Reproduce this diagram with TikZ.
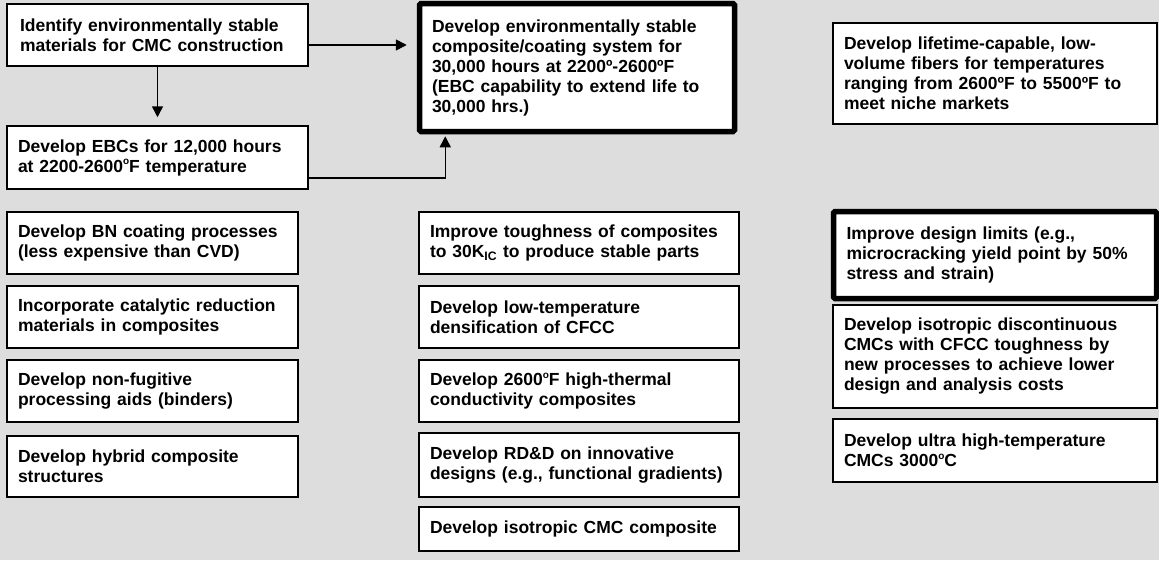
\documentclass[tikz,border=0pt]{standalone}
\usepackage{fontspec}
\setmainfont{Liberation Sans}
\usetikzlibrary{arrows.meta}
\definecolor{panelgray}{RGB}{221,221,221}
\newcommand{\degsup}{\raisebox{0.42em}{\fontsize{10}{10}\selectfont o}}

\begin{document}
\begin{tikzpicture}[x=1pt,y=-1pt,
  font=\fontsize{17.5}{20}\selectfont\bfseries,
  card/.style={draw=black, line width=1.5pt, fill=white, rectangle,
    inner xsep=11pt, inner ysep=0pt, align=left},
  heavycard/.style={card, line width=5.5pt, rounded corners=1.5pt},
  colL/.style={minimum width=301pt, text width=279pt},
  colLs/.style={minimum width=291pt, text width=269pt},
  colM/.style={minimum width=320pt, text width=298pt},
  colR/.style={minimum width=324pt, text width=302pt},
  arr/.style={line width=1.5pt, -{Triangle[length=11pt,width=11pt]}}
]
\fill[panelgray] (0,0) rectangle (1159,560);
\useasboundingbox (0,0) rectangle (1159,560);

% top row: chain of coating goals
\node[card, colL, minimum height=62pt, inner xsep=13pt, text width=275pt] (ident) at (157.5,35)
  {Identify environmentally stable\\materials for CMC construction};
\node[card, colL, minimum height=63pt] (ebc) at (157.5,157.5)
  {Develop EBCs for 12,000 hours\\at 2200-2600\degsup F temperature};
\node[heavycard, minimum width=315pt, minimum height=128pt, inner xsep=12.5pt, text width=290pt] (sys) at (577,67.5)
  {Develop environmentally stable\\composite/coating system for\\30,000 hours at 2200º-2600ºF\\(EBC capability to extend life to\\30,000 hrs.)};
\node[card, colR, minimum height=101pt] (fiber) at (995,73.5)
  {Develop lifetime-capable, low-\\volume fibers for temperatures\\ranging from 2600ºF to 5500ºF to\\meet niche markets};

% left column
\node[card, colLs, minimum height=62pt] (bn) at (152.5,243)
  {Develop BN coating processes\\(less expensive than CVD)};
\node[card, colLs, minimum height=62pt] (cat) at (152.5,317)
  {Incorporate catalytic reduction\\materials in composites};
\node[card, colLs, minimum height=62pt] (bind) at (152.5,391)
  {Develop non-fugitive\\processing aids (binders)};
\node[card, colLs, minimum height=61pt] (hyb) at (152.5,466.5)
  {Develop hybrid composite\\structures};

% middle column
\node[card, colM, minimum height=62pt] (tough) at (579,243)
  {Improve toughness of composites\\to 30K\textsubscript{IC} to produce stable parts};
\node[card, colM, minimum height=62pt] (dens) at (579,317)
  {Develop low-temperature\\densification of CFCC};
\node[card, colM, minimum height=62pt] (cond) at (579,391)
  {Develop 2600\degsup F high-thermal\\conductivity composites};
\node[card, colM, minimum height=64pt] (rdd) at (579,465)
  {Develop RD\&D on innovative\\designs (e.g., functional gradients)};
\node[card, colM, minimum height=44pt] (iso) at (579,529)
  {Develop isotropic CMC composite};

% right column
\node[heavycard, minimum width=323pt, minimum height=87pt, inner xsep=13pt, text width=297pt] (limits) at (995,255)
  {Improve design limits (e.g.,\\microcracking yield point by 50\%\\stress and strain)};
\node[card, colR, minimum height=103pt] (disc) at (995,356.5)
  {Develop isotropic discontinuous\\CMCs with CFCC toughness by\\new processes to achieve lower\\design and analysis costs};
\node[card, colR, minimum height=63pt] (ultra) at (995,450.5)
  {Develop ultra high-temperature\\CMCs 3000\degsup C};

% connectors
\draw[arr, shorten >=8pt] (ident.south) -- (ebc.north);
\draw[arr, shorten >=10pt] ([yshift=-10pt]ident.east) -- ([yshift=-10pt]ident.east -| sys.west);
\draw[arr, shorten >=2pt] ([yshift=-20.5pt]ebc.east) -| ([xshift=28.5pt]sys.south west);
\end{tikzpicture}
\end{document}
